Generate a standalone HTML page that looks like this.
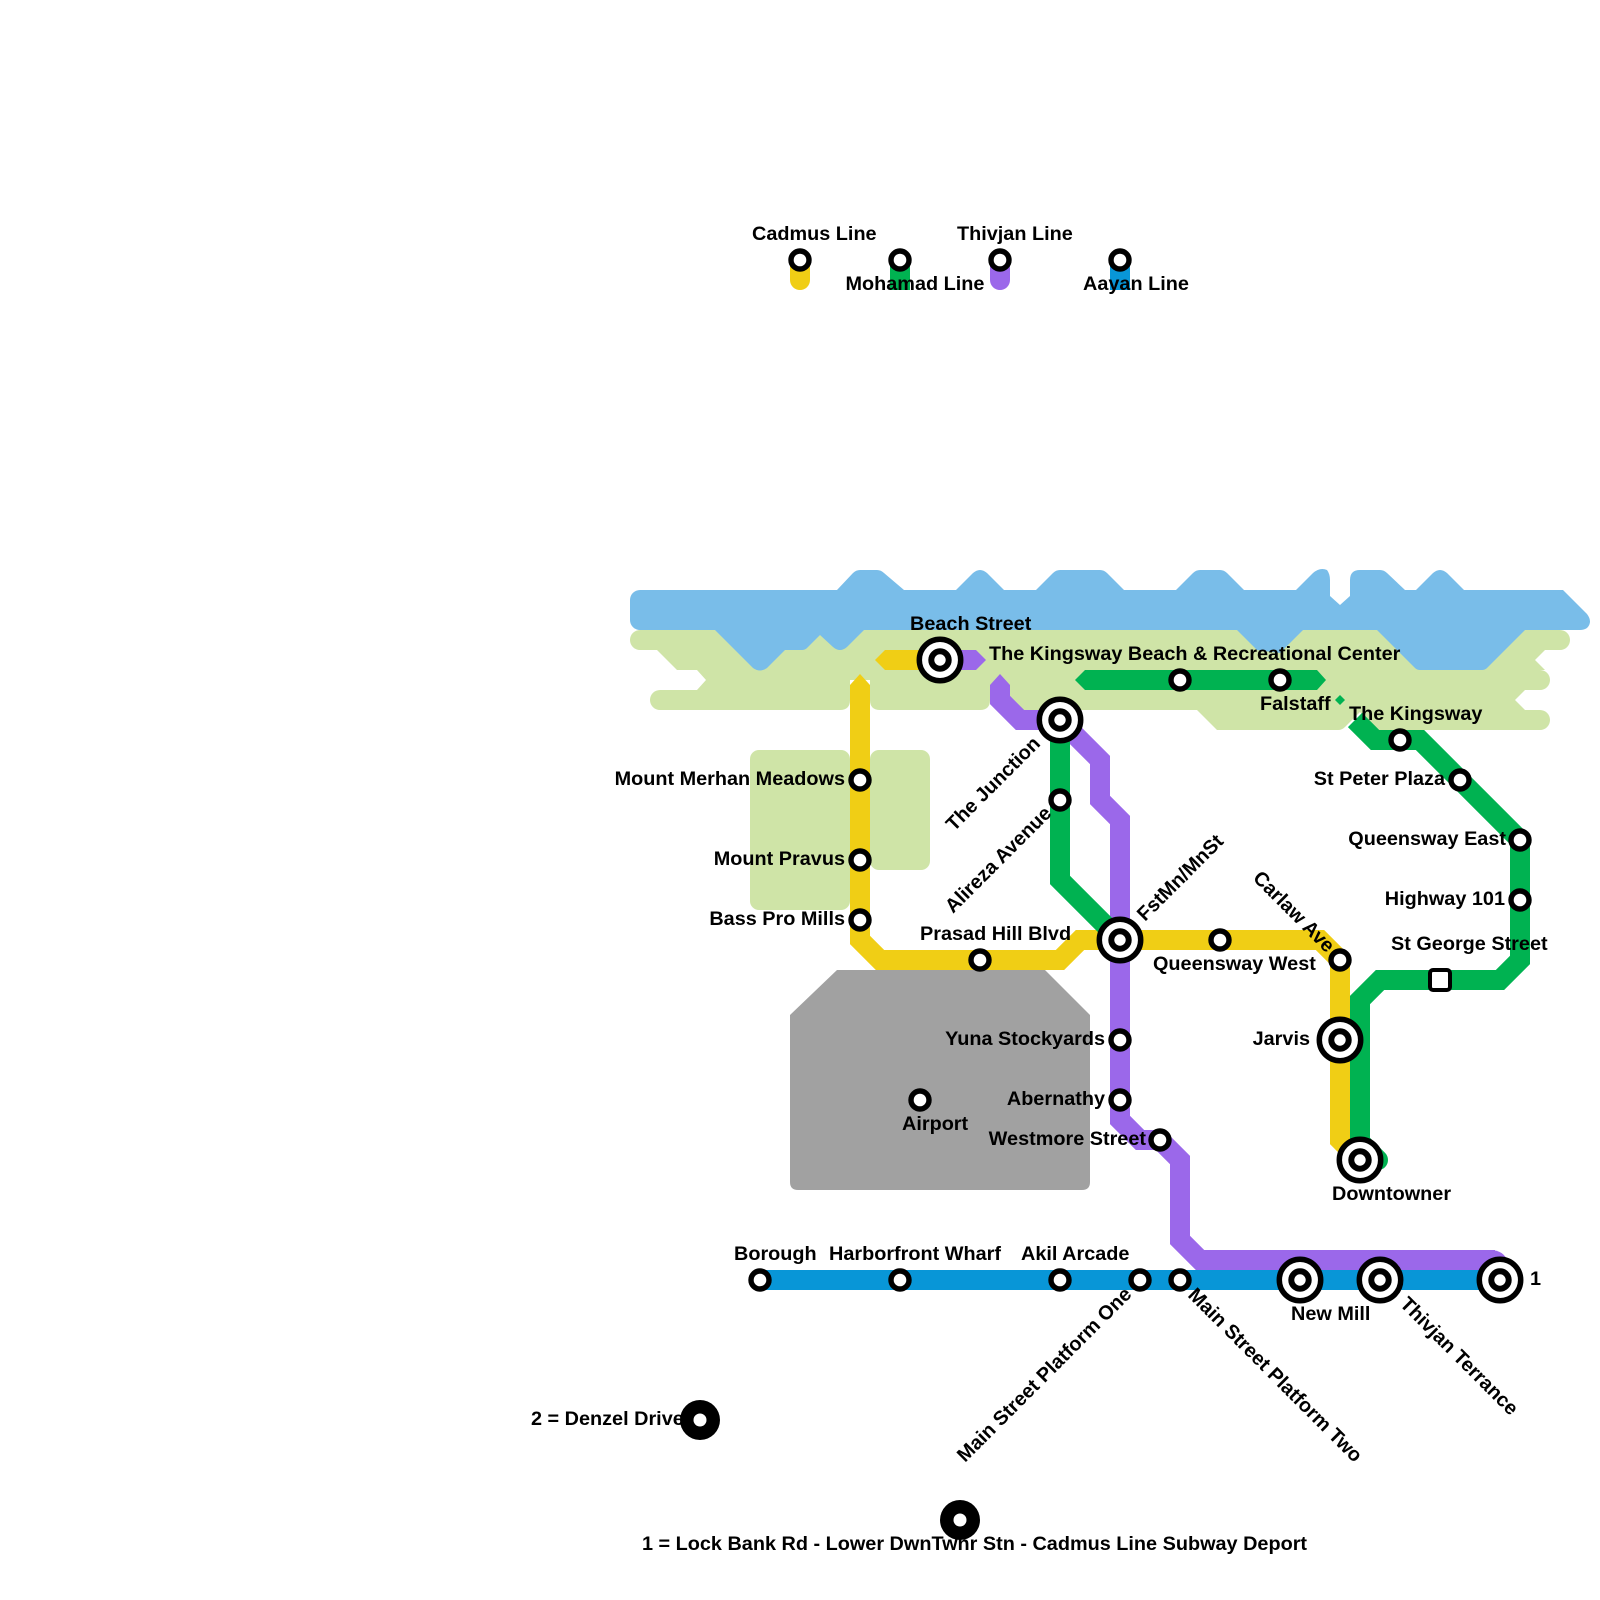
<!DOCTYPE html>
<html><head><meta charset="utf-8"><style>
html,body{margin:0;padding:0;background:#fff}
svg{display:block}
text{font-family:"Liberation Sans",sans-serif;font-weight:bold;font-size:19.85px;fill:#000}
.l{fill:none;stroke-width:20;stroke-linejoin:miter;stroke-linecap:butt}
.e{text-anchor:end}
</style></head><body>
<svg width="1600" height="1600" viewBox="0 0 1600 1600" xmlns="http://www.w3.org/2000/svg">
<defs>
<g id="s"><circle r="9" fill="#fff" stroke="#000" stroke-width="5.4"/></g>
<g id="b"><circle r="20.7" fill="#fff" stroke="#000" stroke-width="5.5"/><circle r="8.7" fill="#fff" stroke="#000" stroke-width="6"/></g>
<g id="d"><circle r="20" fill="#000"/><circle r="6.5" fill="#fff"/></g>
</defs>
<!-- land -->
<path fill="#cfe4a7" d="M640 630H1560A10 10 0 0 1 1560 650H1545L1535 660L1545 670H1540A10 10 0 0 1 1540 690H1525L1515 700L1525 710H1540A10 10 0 0 1 1540 730H1375L1360 712L1345 727Q1342 730 1338 730H1217L1197 710H1000V700H990Q990 710 980 710H880Q870 710 870 700V680H850V700Q850 710 840 710H660A10 10 0 0 1 660 690H697L706 680L697 670H677L657 650H640A10 10 0 0 1 640 630Z"/>
<rect x="750" y="750" width="100" height="160" rx="9" fill="#cfe4a7"/>
<rect x="870" y="750" width="60" height="120" rx="9" fill="#cfe4a7"/>
<!-- water -->
<path fill="#79bde9" d="M640 590H837L853 573Q856 570 860 570H877Q881 570 884 573L904 590H956L973 573Q980 567 987 573L1004 590H1036L1053 573Q1056 570 1060 570H1100Q1104 570 1107 573L1124 590H1176L1193 573Q1196 570 1200 570H1220Q1224 570 1227 573L1244 590H1296L1313 573Q1320 567 1327 570Q1330 574 1330 580V596L1340 605L1350 596V580Q1350 570 1360 570H1380Q1384 570 1387 573L1405 590H1416L1433 573Q1440 567 1447 573L1464 590H1563L1587 614Q1593 622 1587 628Q1584 630 1580 630H1525L1487 668Q1485 670 1482 670H1420Q1417 670 1415 668L1377 630H1303L1280 653L1257 650L1237 630H864L847 647Q840 653 833 647L820 635L807 648Q805 650 802 650H785L767 668Q760 673 753 668L715 630H640A10 10 0 0 1 630 620V600A10 10 0 0 1 640 590Z"/>
<!-- airport -->
<path fill="#a1a1a1" d="M837 970H1045L1090 1015V1182Q1090 1190 1082 1190H798Q790 1190 790 1182V1015Z"/>
<!-- lines -->
<path class="l" stroke="#f0ce15" d="M860 685V940L880 960H1060L1080 940H1320L1340 960V1140L1360 1160"/>
<polygon fill="#f0ce15" points="850,685 860,674 870,685"/>
<path fill="#f0ce15" d="M875 660L885 650H940V670H885Z"/>
<path fill="#9b68ea" d="M940 650H976L986 660L976 670H940Z"/>
<path class="l" stroke="#9b68ea" d="M1000 685V700L1020 720H1060L1100 760V800L1120 820V1120L1140 1140H1160L1180 1160V1240L1200 1260H1495"/>
<polygon fill="#9b68ea" points="990,685 1000,674 1010,685"/>
<path fill="#9b68ea" d="M1490 1250Q1504 1250 1508 1262L1490 1270Z"/>
<path class="l" stroke="#00b251" d="M1060 705V880L1120 940"/>
<path fill="#00b251" d="M1075 680L1085 670H1317L1326 680L1317 690H1085Z"/>
<polygon fill="#00b251" points="1340,695 1345,700 1340,705 1335,700"/>
<path class="l" stroke="#00b251" d="M1355 720L1375 740H1420L1520 840V960L1500 980H1380L1360 1000V1150"/>
<path fill="none" stroke="#00b251" stroke-width="20" stroke-linecap="round" d="M1360 1142L1378 1160"/>
<path class="l" stroke="#0896d7" d="M760 1280H1500"/>
<!-- legend -->
<path fill="#f0ce15" d="M790 260H810V280A10 10 0 0 1 790 280Z"/>
<rect x="890" y="260" width="20" height="30" fill="#00b251"/>
<path fill="#9b68ea" d="M990 260H1010V280A10 10 0 0 1 990 280Z"/>
<rect x="1110" y="260" width="20" height="30" fill="#0896d7"/>
<!-- stations -->
<use href="#s" x="800" y="260"/><use href="#s" x="900" y="260"/><use href="#s" x="1000" y="260"/><use href="#s" x="1120" y="260"/>
<use href="#b" x="940" y="660"/><use href="#b" x="1060" y="720"/><use href="#b" x="1120" y="940"/><use href="#b" x="1340" y="1040"/><use href="#b" x="1360" y="1160"/><use href="#b" x="1300" y="1280"/><use href="#b" x="1380" y="1280"/><use href="#b" x="1500" y="1280"/>
<use href="#s" x="860" y="780"/><use href="#s" x="860" y="860"/><use href="#s" x="860" y="920"/><use href="#s" x="980" y="960"/><use href="#s" x="920" y="1100"/><use href="#s" x="1060" y="800"/><use href="#s" x="1120" y="1040"/><use href="#s" x="1120" y="1100"/><use href="#s" x="1160" y="1140"/><use href="#s" x="1180" y="680"/><use href="#s" x="1280" y="680"/><use href="#s" x="1220" y="940"/><use href="#s" x="1340" y="960"/><use href="#s" x="1400" y="740"/><use href="#s" x="1460" y="780"/><use href="#s" x="1520" y="840"/><use href="#s" x="1520" y="900"/><use href="#s" x="760" y="1280"/><use href="#s" x="900" y="1280"/><use href="#s" x="1060" y="1280"/><use href="#s" x="1140" y="1280"/><use href="#s" x="1180" y="1280"/>
<rect x="1430" y="970" width="20" height="20" rx="3" fill="#fff" stroke="#000" stroke-width="4"/>
<use href="#d" x="700" y="1420"/><use href="#d" x="960" y="1520"/>
<!-- labels -->
<text x="752" y="240">Cadmus Line</text>
<text x="957" y="240">Thivjan Line</text>
<text x="845.5" y="290">Mohamad Line</text>
<text x="1083" y="290">Aayan Line</text>
<text x="910" y="630">Beach Street</text>
<text x="989" y="660">The Kingsway Beach &amp; Recreational Center</text>
<text x="1260" y="710">Falstaff</text>
<text x="1349" y="720">The Kingsway</text>
<text class="e" x="845" y="785">Mount Merhan Meadows</text>
<text class="e" x="845" y="865">Mount Pravus</text>
<text class="e" x="845" y="925">Bass Pro Mills</text>
<text x="920" y="940">Prasad Hill Blvd</text>
<text x="902" y="1130">Airport</text>
<text class="e" x="1105" y="1045">Yuna Stockyards</text>
<text class="e" x="1105" y="1105">Abernathy</text>
<text class="e" x="1146" y="1145">Westmore Street</text>
<text x="1153" y="970">Queensway West</text>
<text class="e" x="1445" y="785">St Peter Plaza</text>
<text class="e" x="1506" y="845">Queensway East</text>
<text class="e" x="1505" y="905">Highway 101</text>
<text x="1391" y="950">St George Street</text>
<text class="e" x="1310" y="1045">Jarvis</text>
<text x="1332" y="1200">Downtowner</text>
<text x="734" y="1260">Borough</text>
<text x="829" y="1260">Harborfront Wharf</text>
<text x="1021" y="1260">Akil Arcade</text>
<text x="1291" y="1320">New Mill</text>
<text x="1530" y="1285">1</text>
<text x="531" y="1425">2 = Denzel Drive</text>
<text x="642" y="1550">1 = Lock Bank Rd - Lower DwnTwnr Stn - Cadmus Line Subway Deport</text>
<text transform="translate(1252,879) rotate(45)">Carlaw Ave</text>
<text transform="translate(1145,922) rotate(-45)">FstMn/MnSt</text>
<text transform="translate(954,832) rotate(-45)">The Junction</text>
<text transform="translate(953,914) rotate(-45)">Alireza Avenue</text>
<text transform="translate(965,1463) rotate(-45)">Main Street Platform One</text>
<text transform="translate(1187,1296) rotate(45)">Main Street Platform Two</text>
<text transform="translate(1399,1305) rotate(45)">Thivjan Terrance</text>
</svg>
</body></html>
